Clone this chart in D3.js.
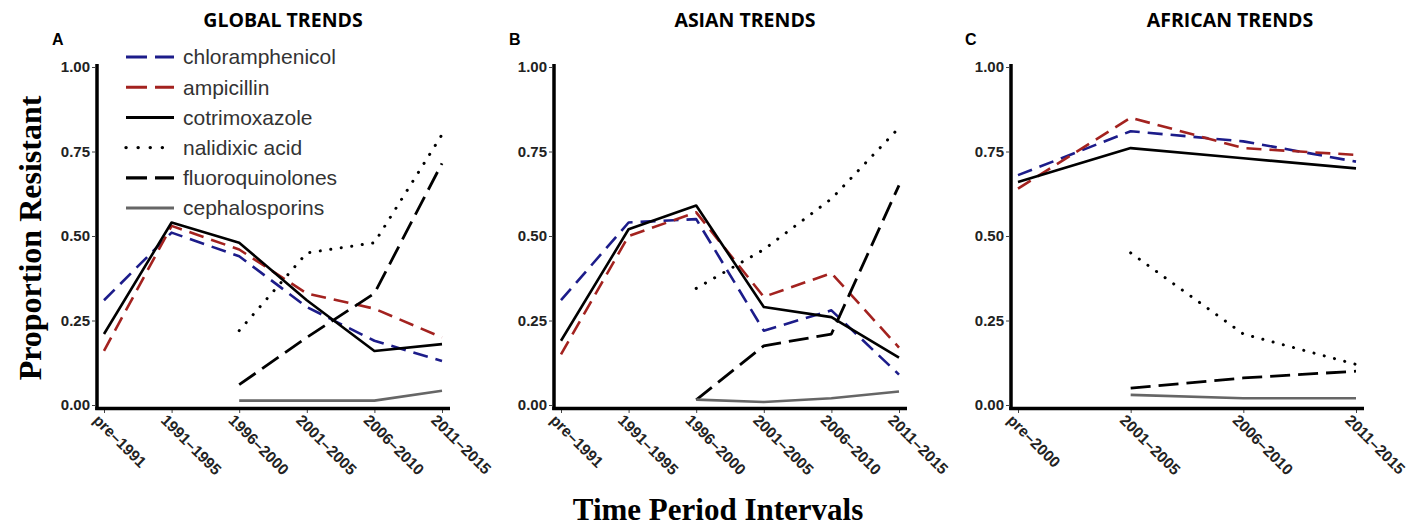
<!DOCTYPE html>
<html>
<head>
<meta charset="utf-8">
<script src="https://cdn.jsdelivr.net/npm/d3@7"></script>
<style>
  body { margin: 0; background: #fff; }
  svg { display: block; }
  .tick text { font-family: "Liberation Sans", Arial, sans-serif; font-weight: bold; fill: #222; }
  .tick line { stroke: #444; }
</style>
</head>
<body>
<svg id="chart" width="1421" height="529"></svg>
<script>
// categories per panel
const periods6 = ["pre\u20131991", "1991\u20131995", "1996\u20132000", "2001\u20132005", "2006\u20132010", "2011\u20132015"]
const periods4 = ["pre\u20132000", "2001\u20132005", "2006\u20132010", "2011\u20132015"]
const yTicks = [0, 0.25, 0.5, 0.75, 1]

const drugs = ["chloramphenicol", "ampicillin", "cotrimoxazole", "nalidixic acid", "fluoroquinolones", "cephalosporins"]

// global (null = no data)
const globalChl = [0.31, 0.51, 0.44, 0.29, 0.19, 0.13]
const globalAmp = [0.16, 0.53, 0.46, 0.33, 0.285, 0.20]
const globalCot = [0.21, 0.54, 0.48, 0.31, 0.16, 0.18]
const globalNal = [null, null, 0.22, 0.45, 0.48, 0.80]
const globalFlq = [null, null, 0.06, 0.20, 0.33, 0.715]
const globalCep = [null, null, 0.013, 0.013, 0.013, 0.042]

// asia
const asiaChl = [0.31, 0.54, 0.55, 0.22, 0.28, 0.09]
const asiaAmp = [0.15, 0.50, 0.57, 0.32, 0.39, 0.17]
const asiaCot = [0.19, 0.52, 0.59, 0.29, 0.26, 0.14]
const asiaNal = [null, null, 0.345, 0.46, 0.61, 0.82]
const asiaFlq = [null, null, 0.015, 0.175, 0.21, 0.65]
const asiaCep = [null, null, 0.016, 0.009, 0.02, 0.04]

// africa
const africaChl = [0.68, 0.81, 0.78, 0.72]
const africaAmp = [0.64, 0.85, 0.76, 0.74]
const africaCot = [0.66, 0.76, 0.73, 0.70]
const africaNal = [null, 0.45, 0.21, 0.12]
const africaFlq = [null, 0.05, 0.08, 0.10]
const africaCep = [null, 0.03, 0.02, 0.02]

const styles = {
    "chloramphenicol": { color: "#1c1c8a", dash: "15,8", width: 2.6, cap: "butt" },
    "ampicillin": { color: "#a3221f", dash: "15,8", width: 2.6, cap: "butt" },
    "cotrimoxazole": { color: "#000", dash: null, width: 2.6, cap: "butt" },
    "nalidixic acid": { color: "#000", dash: "0.1,10.5", width: 3, cap: "round" },
    "fluoroquinolones": { color: "#000", dash: "20,8", width: 2.8, cap: "butt" },
    "cephalosporins": { color: "#666", dash: null, width: 2.6, cap: "butt" }
}

const panels = [
    { title: "GLOBAL TRENDS", letter: "A", left: 97, titleX: 283, letterX: 52, cats: periods6,
      series: [globalChl, globalAmp, globalCot, globalNal, globalFlq, globalCep] },
    { title: "ASIAN TRENDS", letter: "B", left: 554, titleX: 745, letterX: 509, cats: periods6,
      series: [asiaChl, asiaAmp, asiaCot, asiaNal, asiaFlq, asiaCep] },
    { title: "AFRICAN TRENDS", letter: "C", left: 1011, titleX: 1230, letterX: 965, cats: periods4,
      series: [africaChl, africaAmp, africaCot, africaNal, africaFlq, africaCep] }
]

const svg = d3.select("#chart")
const y = d3.scaleLinear().domain([0, 1]).range([405, 67])

panels.forEach(p => {
    const x = d3.scalePoint().domain(p.cats).range([p.left + 7, p.left + 345])
    const g = svg.append("g")

    // titles
    g.append("text")
        .attr("x", p.titleX).attr("y", 27)
        .attr("text-anchor", "middle")
        .style("font-family", "'Open Sans', sans-serif")
        .style("font-weight", "bold").style("font-size", "19.5px")
        .text(p.title)
    g.append("text")
        .attr("x", p.letterX).attr("y", 45)
        .style("font-family", "'Liberation Sans', Arial, sans-serif")
        .style("font-weight", "bold").style("font-size", "16px")
        .text(p.letter)

    // axes
    const yAxis = g.append("g")
        .attr("transform", `translate(${p.left - 2},0)`)
        .call(d3.axisLeft(y).tickValues(yTicks).tickFormat(d3.format(".2f")).tickSize(3).tickPadding(2))
    yAxis.select(".domain").remove()
    yAxis.selectAll(".tick text").style("font-size", "15px")

    const xAxis = g.append("g")
        .attr("transform", `translate(0,410)`)
        .call(d3.axisBottom(x).tickSize(3).tickPadding(4))
    xAxis.select(".domain").remove()
    xAxis.selectAll(".tick text")
        .attr("text-anchor", "start")
        .attr("dy", "0.2em")
        .attr("transform", "translate(-5,4) rotate(45)")
        .style("font-size", "15.5px")

    g.append("line")
        .attr("x1", p.left).attr("x2", p.left)
        .attr("y1", 64).attr("y2", 410)
        .attr("stroke", "#000").attr("stroke-width", 3.5)
    g.append("line")
        .attr("x1", p.left - 1.75).attr("x2", p.left + 353)
        .attr("y1", 408.5).attr("y2", 408.5)
        .attr("stroke", "#000").attr("stroke-width", 3.5)

    // lines
    const line = d3.line()
        .defined(d => d.v !== null)
        .x(d => x(d.c))
        .y(d => y(d.v))

    p.series.forEach((vals, i) => {
        const s = styles[drugs[i]]
        const data = vals.map((v, j) => ({ c: p.cats[j], v: v }))
        g.append("path")
            .datum(data)
            .attr("d", line)
            .attr("fill", "none")
            .attr("stroke", s.color)
            .attr("stroke-width", s.width)
            .attr("stroke-linecap", s.cap)
            .attr("stroke-linejoin", "round")
            .attr("stroke-dasharray", s.dash)
    })
})

// legend (inside panel A)
const legend = svg.append("g")
drugs.forEach((d, i) => {
    const s = styles[d]
    const yy = 57 + i * 30.2
    legend.append("line")
        .attr("x1", 126).attr("x2", 174)
        .attr("y1", yy).attr("y2", yy)
        .attr("stroke", s.color)
        .attr("stroke-width", s.width + 0.4)
        .attr("stroke-linecap", s.cap)
        .attr("stroke-dasharray", d === "nalidixic acid" ? "0.1,12" : (s.dash ? "21,8" : null))
    legend.append("text")
        .attr("x", 183).attr("y", yy)
        .attr("dy", "0.35em")
        .style("font-family", "'Liberation Sans', Arial, sans-serif")
        .style("font-size", "21px")
        .style("fill", "#333")
        .text(d)
})

// shared axis titles
svg.append("text")
    .attr("transform", "translate(41,238) rotate(-90)")
    .attr("text-anchor", "middle")
    .style("font-family", "'Liberation Serif', 'Times New Roman', serif")
    .style("font-weight", "bold").style("font-size", "32px")
    .text("Proportion Resistant")
svg.append("text")
    .attr("x", 718).attr("y", 520)
    .attr("text-anchor", "middle")
    .style("font-family", "'Liberation Serif', 'Times New Roman', serif")
    .style("font-weight", "bold").style("font-size", "31px")
    .text("Time Period Intervals")
</script>
</body>
</html>
